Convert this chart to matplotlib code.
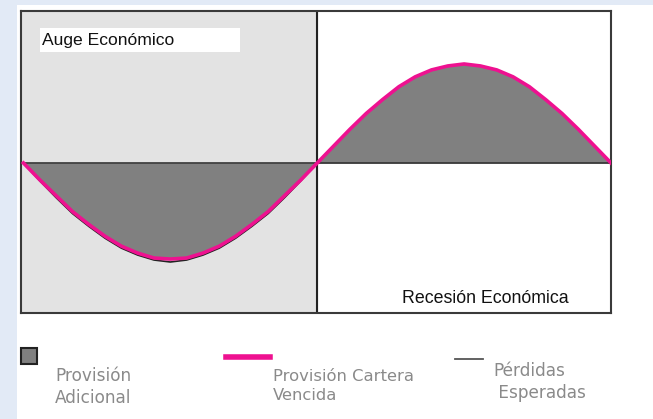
import matplotlib.pyplot as plt
from matplotlib.patches import Rectangle
from matplotlib.lines import Line2D

# phase of the cycle (degrees) and the provision curves
phase = list(range(0, 361, 10))
provision_cartera = [0, -0.17, -0.33, -0.49, -0.62, -0.74, -0.84, -0.91, -0.96, -0.97,
                     -0.96, -0.91, -0.84, -0.74, -0.62, -0.49, -0.33, -0.17, 0,
                     0.17, 0.34, 0.50, 0.64, 0.77, 0.87, 0.94, 0.98, 1.00,
                     0.98, 0.94, 0.87, 0.77, 0.64, 0.50, 0.34, 0.17, 0]
perdidas_esperadas = [0, -0.18, -0.35, -0.51, -0.64, -0.76, -0.86, -0.93, -0.98, -1.00,
                      -0.98, -0.93, -0.86, -0.76, -0.64, -0.51, -0.35, -0.18, 0,
                      0.17, 0.34, 0.50, 0.64, 0.77, 0.87, 0.94, 0.98, 1.00,
                      0.98, 0.94, 0.87, 0.77, 0.64, 0.50, 0.34, 0.17, 0]

phase_labels = ['Auge Económico', 'Recesión Económica']
legend_labels = ['Provisión\nAdicional', 'Provisión Cartera\nVencida', 'Pérdidas\n Esperadas']

W, H = 653, 419
magenta = '#ee1190'
gray_fill = '#808080'

fig = plt.figure(figsize=(W / 100, H / 100), dpi=100)
fig.patch.set_facecolor('white')


def fx(px):
    return px / W


def fy(py):
    return 1 - py / H


# light blue page strips
fig.patches.append(Rectangle((0, 0), fx(17), 1, transform=fig.transFigure,
                             facecolor='#e2eaf6', edgecolor='none', zorder=0))
fig.patches.append(Rectangle((0, fy(5)), 1, 5 / H, transform=fig.transFigure,
                             facecolor='#e2eaf6', edgecolor='none', zorder=0))

left, right, top, bottom = 21, 611, 11, 313
ax = fig.add_axes([fx(left), fy(bottom), (right - left) / W, (bottom - top) / H])
ax.set_xlim(-1.5, 360)
ax.set_ylim(-1.515, 1.535)
ax.axvspan(-1.5, 180, color='#e3e3e3', zorder=0)

ax.fill_between(phase, provision_cartera, 0, color=gray_fill, zorder=1, linewidth=0)
ax.axhline(0, color='#333333', lw=1.2, zorder=2)
ax.axvline(180, color='#222222', lw=1.5, zorder=2)
ax.plot(phase, perdidas_esperadas, color='#222222', lw=1.2, zorder=3)
ax.plot(phase, provision_cartera, color=magenta, lw=2.6, zorder=4)

ax.set_xticks([])
ax.set_yticks([])
for s in ax.spines.values():
    s.set_color('#3a3a3a')
    s.set_linewidth(1.5)

# white label boxes
fig.patches.append(Rectangle((fx(40), fy(52)), 200 / W, 24 / H, transform=fig.transFigure,
                             facecolor='white', edgecolor='none', zorder=3))
fig.text(fx(42), fy(40), phase_labels[0], fontsize=12.6, family='Liberation Sans',
         color='#111111', va='center', ha='left', zorder=4)
fig.text(fx(402), fy(298), phase_labels[1], fontsize=12.8, family='Liberation Sans',
         color='#111111', va='center', ha='left', zorder=4)

# legend below the chart
fig.patches.append(Rectangle((fx(21), fy(364)), 16 / W, 16 / H, transform=fig.transFigure,
                             facecolor=gray_fill, edgecolor='#222222', lw=1.5, zorder=3))
fig.add_artist(Line2D([fx(226), fx(270)], [fy(357), fy(357)], color=magenta, lw=4))
fig.add_artist(Line2D([fx(455), fx(483)], [fy(359), fy(359)], color='#555555', lw=1.3))

legend_pos = [(55, 387), (273, 386), (493, 382)]
legend_sizes = [12.2, 11.8, 12.2]
for (px, py), lab, fs in zip(legend_pos, legend_labels, legend_sizes):
    fig.text(fx(px), fy(py), lab, fontsize=fs, color='#8a8a8a', va='center', ha='left',
             linespacing=1.35)

fig.savefig('out.png', dpi=100)
